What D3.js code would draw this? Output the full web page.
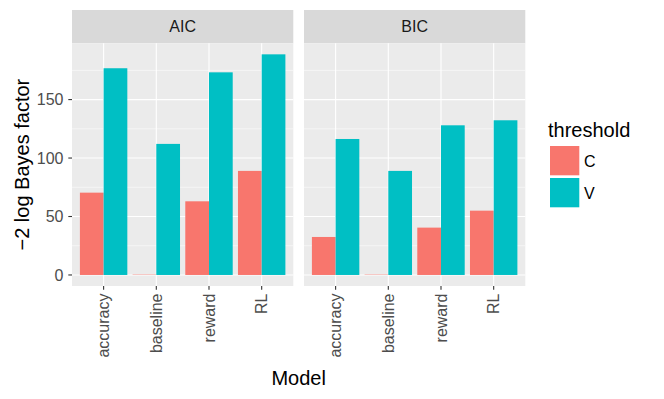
<!DOCTYPE html>
<meta charset="utf-8">
<html>
<head>
<style>
  body { margin: 0; background: white; }
  text { font-family: "Liberation Sans", Arial, sans-serif; }
</style>
</head>
<body>
<div id="chart"></div>
<script src="https://d3js.org/d3.v7.min.js"></script>
<script>
  // data
  var criteria = ["AIC", "BIC"];
  var models = ["accuracy", "baseline", "reward", "RL"];
  var thresholds = ["C", "V"];
  var aicC = [70.4, 0.3, 63.0, 89.0];
  var aicV = [176.8, 112.1, 173.3, 188.7];
  var bicC = [32.5, 0.3, 40.5, 55.0];
  var bicV = [116.3, 89.0, 128.0, 132.3];
  var yTicks = [0, 50, 100, 150];
  var yMinor = [25, 75, 125, 175];
  var colors = ["#F8766D", "#00BFC4"];

  var series = { AIC: [aicC, aicV], BIC: [bicC, bicV] };

  var W = 664, H = 399;
  var stripTop = 10, stripH = 33.3;
  var panelTop = stripTop + stripH, panelBottom = 286;
  var panelLeft = [72, 304], panelW = 221.3;

  var svg = d3.select("#chart").append("svg")
    .attr("width", W).attr("height", H);

  var ymax = d3.max(aicV.concat(bicV, aicC, bicC));
  var y = d3.scaleLinear()
    .domain([-0.05 * ymax, ymax * 1.05])
    .range([panelBottom, panelTop]);

  // discrete x with ggplot's 0.6 expansion on each side
  var unit = panelW / (models.length + 0.2);
  var x = d3.scalePoint().domain(models).range([0.6 * unit, panelW - 0.6 * unit]);
  var sub = d3.scaleBand().domain(thresholds).range([-0.45 * unit, 0.45 * unit]);

  criteria.forEach(function(crit, ci) {
    var g = svg.append("g").attr("transform", "translate(" + panelLeft[ci] + ",0)");

    // strip
    g.append("rect").attr("x", 0).attr("y", stripTop).attr("width", panelW).attr("height", stripH)
      .attr("fill", "#D9D9D9");
    g.append("text").attr("x", panelW / 2).attr("y", stripTop + stripH / 2 + 5.8)
      .attr("text-anchor", "middle").attr("font-size", "16px").attr("fill", "#1A1A1A")
      .text(crit);

    // panel
    g.append("rect").attr("x", 0).attr("y", panelTop).attr("width", panelW)
      .attr("height", panelBottom - panelTop).attr("fill", "#EBEBEB");

    g.selectAll(".minor").data(yMinor).enter().append("line")
      .attr("x1", 0).attr("x2", panelW)
      .attr("y1", function(d) { return y(d); }).attr("y2", function(d) { return y(d); })
      .attr("stroke", "white").attr("stroke-width", 0.55);
    g.selectAll(".major").data(yTicks).enter().append("line")
      .attr("x1", 0).attr("x2", panelW)
      .attr("y1", function(d) { return y(d); }).attr("y2", function(d) { return y(d); })
      .attr("stroke", "white").attr("stroke-width", 1.1);
    g.selectAll(".vmajor").data(models).enter().append("line")
      .attr("x1", function(d) { return x(d); }).attr("x2", function(d) { return x(d); })
      .attr("y1", panelTop).attr("y2", panelBottom)
      .attr("stroke", "white").attr("stroke-width", 1.1);

    // bars
    thresholds.forEach(function(t, ti) {
      g.selectAll(".bar" + t).data(series[crit][ti]).enter().append("rect")
        .attr("x", function(d, i) { return x(models[i]) + sub(t); })
        .attr("width", sub.bandwidth())
        .attr("y", function(d) { return y(d); })
        .attr("height", function(d) { return y(0) - y(d); })
        .attr("fill", colors[ti]);
    });

    // x axis ticks and labels
    var xa = g.append("g");
    models.forEach(function(m) {
      xa.append("line").attr("x1", x(m)).attr("x2", x(m))
        .attr("y1", panelBottom).attr("y2", panelBottom + 3.7)
        .attr("stroke", "#333333").attr("stroke-width", 1.1);
      xa.append("text")
        .attr("transform", "translate(" + (x(m) + 5.6) + "," + (panelBottom + 7.5) + ") rotate(-90)")
        .attr("text-anchor", "end").attr("font-size", "16px").attr("fill", "#4D4D4D")
        .text(m);
    });
  });

  // y axis
  var ya = svg.append("g");
  yTicks.forEach(function(v) {
    ya.append("line").attr("x1", panelLeft[0] - 3.7).attr("x2", panelLeft[0])
      .attr("y1", y(v)).attr("y2", y(v))
      .attr("stroke", "#333333").attr("stroke-width", 1.1);
    ya.append("text").attr("x", panelLeft[0] - 8.5).attr("y", y(v) + 5.6)
      .attr("text-anchor", "end").attr("font-size", "16px").attr("fill", "#4D4D4D")
      .text(v);
  });

  svg.append("text")
    .attr("transform", "translate(29," + ((panelTop + panelBottom) / 2) + ") rotate(-90)")
    .attr("text-anchor", "middle").attr("font-size", "20px").attr("fill", "black")
    .text("\u22122 log Bayes factor");

  svg.append("text")
    .attr("x", (panelLeft[0] + panelLeft[1] + panelW) / 2).attr("y", 385)
    .attr("text-anchor", "middle").attr("font-size", "20px").attr("fill", "black")
    .text("Model");

  // legend
  var lg = svg.append("g").attr("transform", "translate(548,0)");
  lg.append("text").attr("x", 0).attr("y", 136.5).attr("font-size", "20px").attr("fill", "black")
    .text("threshold");
  thresholds.forEach(function(t, i) {
    lg.append("rect").attr("x", 2).attr("y", 146 + i * 32).attr("width", 29.3).attr("height", 29.3)
      .attr("fill", colors[i]);
    lg.append("text").attr("x", 36).attr("y", 146 + i * 32 + 20.5)
      .attr("font-size", "16px").attr("fill", "black").text(t);
  });
</script>
</body>
</html>
